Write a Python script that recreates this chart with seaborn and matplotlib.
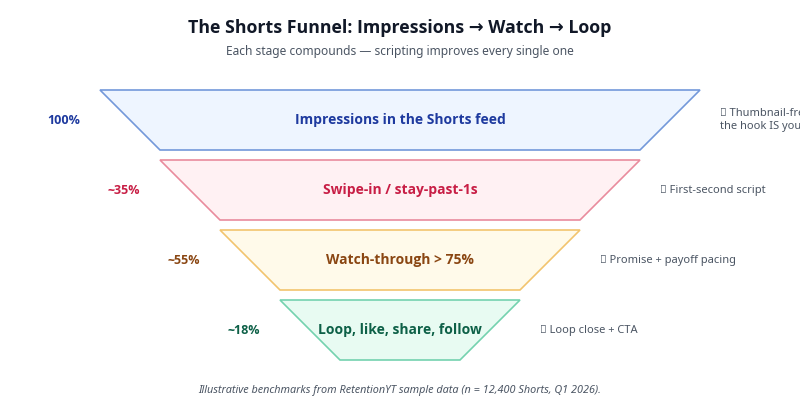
import matplotlib
matplotlib.use("Agg")
import matplotlib.pyplot as plt
import seaborn as sns

# ---- data ----
stages = ["Impressions in the Shorts feed", "Swipe-in / stay-past-1s",
          "Watch-through > 75%", "Loop, like, share, follow"]
pct_labels = ["100%", "~35%", "~55%", "~18%"]
notes = ["\U0001F5BC Thumbnail-free feed:\nthe hook IS your thumbnail",
         "\U0001F3AC First-second script",
         "\u23F1 Promise + payoff pacing",
         "\U0001F501 Loop close + CTA"]
fill_colors = ["#eef5ff", "#fff1f3", "#fffaea", "#e8fbf2"]
edge_colors = ["#7398da", "#e98b9d", "#f2c46e", "#74d2af"]
text_colors = ["#1e3a9f", "#c81e45", "#8a4612", "#0d6047"]

sns.set_theme(style="white")
plt.rcParams["font.family"] = ["Open Sans", "DejaVu Sans"]
regular = ["Noto Sans", "DejaVu Sans"]

fig = plt.figure(figsize=(8, 4.2), dpi=100)
ax = fig.add_axes([0, 0, 1, 1])
ax.set_xlim(0, 800)
ax.set_ylim(420, 0)
ax.axis("off")

cx = 400
top0 = 90
h = 60
gap = 10
half_top = 300
step = 60
for i, (lab, pct, note) in enumerate(zip(stages, pct_labels, notes)):
    y0 = top0 + i * (h + gap)
    y1 = y0 + h
    ht = half_top - i * step
    hb = ht - step
    xs = [cx - ht, cx + ht, cx + hb, cx - hb]
    ys = [y0, y0, y1, y1]
    ax.fill(xs, ys, facecolor=fill_colors[i], edgecolor=edge_colors[i], linewidth=1.2)
    ym = (y0 + y1) / 2
    ax.text(cx, ym, lab, ha="center", va="center", fontsize=10.0,
            fontweight="bold", color=text_colors[i])
    ax.text(cx - ht - 20, ym, pct, ha="right", va="center", fontsize=9.0,
            fontweight="bold", color=text_colors[i])
    ax.text(cx + ht + 20, ym, note, ha="left", va="center", fontsize=8,
            color="#4b5563", linespacing=1.3, family=regular)

ax.text(400, 28, "The Shorts Funnel: Impressions \u2192 Watch \u2192 Loop",
        ha="center", va="center", fontsize=12.8, fontweight="bold", color="#111827")
ax.text(400, 51, "Each stage compounds \u2014 scripting improves every single one",
        ha="center", va="center", fontsize=8.6, color="#4b5563", family=regular)
ax.text(400, 391, "Illustrative benchmarks from RetentionYT sample data (n = 12,400 Shorts, Q1 2026).",
        ha="center", va="center", fontsize=7.8, style="italic", color="#4b5563",
        family=regular)

fig.savefig("out.png", dpi=100, facecolor="white")
